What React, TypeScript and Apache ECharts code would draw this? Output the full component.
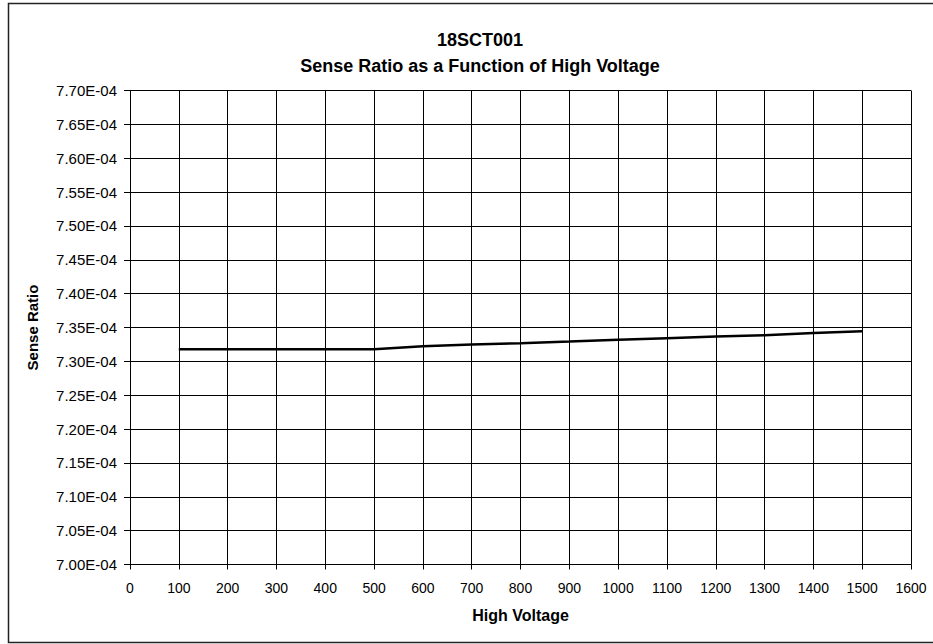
import React, { useEffect, useRef } from "react";
import * as echarts from "echarts";

const voltages = [100, 200, 300, 400, 500, 600, 700, 800, 900, 1000, 1100, 1200, 1300, 1400, 1500];
const senseRatio = [
  7.3178e-4, 7.3178e-4, 7.3178e-4, 7.3178e-4, 7.318e-4, 7.3222e-4, 7.325e-4, 7.3268e-4,
  7.3292e-4, 7.3318e-4, 7.3342e-4, 7.3366e-4, 7.3386e-4, 7.342e-4, 7.3446e-4,
];
const titleLines = ["18SCT001", "Sense Ratio as a Function of High Voltage"];
const xName = "High Voltage";
const yName = "Sense Ratio";

const FONT = "Arial, 'Liberation Sans', sans-serif";

export default function App() {
  const ref = useRef<HTMLDivElement>(null);
  useEffect(() => {
    if (!ref.current) return;
    const chart = echarts.init(ref.current, null, { renderer: "svg" });
    chart.setOption({
      animation: false,
      backgroundColor: "#fff",
      title: {
        text: titleLines.join("\n"),
        left: 475,
        top: 22,
        textAlign: "center",
        textStyle: { fontFamily: FONT, fontSize: 18, fontWeight: "bold", color: "#000", lineHeight: 26 },
      },
      graphic: [
        {
          type: "rect",
          shape: { x: 8.5, y: 3.5, width: 960, height: 639 },
          style: { fill: "none", stroke: "#222", lineWidth: 1.5 },
          silent: true,
        },
      ],
      grid: { left: 130, right: 22, top: 90.5, bottom: 79.5, containLabel: false },
      xAxis: {
        type: "value",
        min: 0,
        max: 1600,
        interval: 100,
        name: xName,
        nameLocation: "middle",
        nameGap: 43,
        nameTextStyle: { fontFamily: FONT, fontSize: 16, fontWeight: "bold", color: "#000" },
        axisLine: { show: true, lineStyle: { color: "#000", width: 1 } },
        axisTick: { show: true, length: 5, lineStyle: { color: "#000" } },
        axisLabel: {
          fontFamily: FONT,
          fontSize: 14,
          color: "#000",
          margin: 16,
          formatter: (v: number) => String(v),
        },
        splitLine: { show: true, lineStyle: { color: "#000", width: 1 } },
      },
      yAxis: {
        type: "value",
        min: 7.0e-4,
        max: 7.7e-4,
        interval: 5e-6,
        name: yName,
        nameLocation: "middle",
        nameGap: 90,
        nameTextStyle: { fontFamily: FONT, fontSize: 15, fontWeight: "bold", color: "#000" },
        axisLine: { show: true, lineStyle: { color: "#000", width: 1 } },
        axisTick: { show: true, length: 6, lineStyle: { color: "#000" } },
        axisLabel: {
          fontFamily: FONT,
          fontSize: 15,
          color: "#000",
          margin: 13,
          formatter: (v: number) => (v * 1e4).toFixed(2) + "E-04",
        },
        splitLine: { show: true, lineStyle: { color: "#000", width: 1 } },
      },
      series: [
        {
          type: "line",
          data: voltages.map((v, i) => [v, senseRatio[i]]),
          showSymbol: false,
          symbol: "none",
          lineStyle: { color: "#000", width: 2.5 },
        },
      ],
    });
    return () => chart.dispose();
  }, []);
  return (
    <div
      ref={ref}
      style={{ position: "absolute", left: 0, top: 0, width: 933, height: 644, background: "#fff" }}
    />
  );
}
